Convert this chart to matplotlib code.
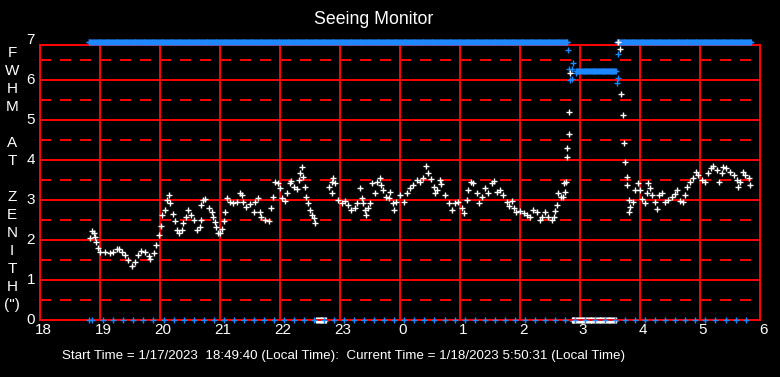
import numpy as np
import matplotlib
matplotlib.use("Agg")
import matplotlib.pyplot as plt

# ---------------- data ----------------
# time in hours since midnight of start day (24+ = next day)
fwhm_times = [
    18.83, 18.86, 18.90, 18.92, 18.94, 18.96, 19.00, 19.08, 19.17, 19.22, 19.28, 19.32, 19.36,
    19.42, 19.47, 19.53, 19.58, 19.64, 19.69, 19.75, 19.81, 19.84, 19.90, 19.94, 19.98, 20.01,
    20.04, 20.08, 20.12, 20.15, 20.17, 20.22, 20.25, 20.28, 20.32, 20.36, 20.39, 20.43, 20.47,
    20.51, 20.56, 20.61, 20.66, 20.68, 20.69, 20.72, 20.75, 20.81, 20.86, 20.89, 20.92, 20.94,
    20.97, 21.00, 21.04, 21.07, 21.08, 21.12, 21.17, 21.22, 21.28, 21.33, 21.36, 21.39, 21.44,
    21.50, 21.56, 21.58, 21.64, 21.67, 21.69, 21.75, 21.82, 21.85, 21.88, 21.92, 21.97, 22.00,
    22.04, 22.08, 22.12, 22.17, 22.19, 22.23, 22.28, 22.31, 22.33, 22.36, 22.39, 22.42, 22.44,
    22.47, 22.50, 22.53, 22.56, 22.58,
    22.82, 22.86, 22.86, 22.89, 22.92, 22.97, 23.03, 23.08, 23.14, 23.19, 23.25, 23.29, 23.33,
    23.36, 23.39, 23.42, 23.43, 23.47, 23.50, 23.53, 23.58, 23.61, 23.67, 23.69, 23.72, 23.77,
    23.81, 23.84, 23.88, 23.90, 23.94, 24.00, 24.06, 24.11, 24.17, 24.22, 24.28, 24.33, 24.39,
    24.43, 24.47, 24.51, 24.56, 24.58, 24.61, 24.67, 24.69, 24.75, 24.81, 24.86, 24.92, 24.97,
    25.03, 25.07, 25.11, 25.14, 25.19, 25.22, 25.28, 25.32, 25.36, 25.42, 25.47, 25.53, 25.57,
    25.61, 25.67, 25.72, 25.78, 25.81, 25.86, 25.90, 25.94, 26.00, 26.06, 26.11, 26.17, 26.22,
    26.28, 26.33, 26.36, 26.42, 26.47, 26.53, 26.56, 26.58, 26.61, 26.64, 26.68, 26.72, 26.73,
    26.75, 26.76, 26.78, 26.79, 26.81, 26.82, 26.83,
    27.64, 27.67, 27.69, 27.72, 27.74, 27.75, 27.78, 27.79, 27.81, 27.82, 27.84, 27.88, 27.92,
    27.97, 28.00, 28.04, 28.08, 28.12, 28.14, 28.17, 28.20, 28.25, 28.28, 28.32, 28.36, 28.42,
    28.47, 28.53, 28.58, 28.62, 28.67, 28.72, 28.75, 28.78, 28.83, 28.89, 28.93, 28.97, 29.03,
    29.08, 29.14, 29.19, 29.22, 29.28, 29.32, 29.36, 29.39, 29.44, 29.50, 29.56, 29.61, 29.64,
    29.67, 29.71, 29.75, 29.81, 29.83,
]
fwhm_values = [
    2.04, 2.23, 2.18, 2.07, 1.96, 1.79, 1.71, 1.71, 1.68, 1.71, 1.77, 1.77, 1.71,
    1.63, 1.50, 1.35, 1.46, 1.63, 1.73, 1.71, 1.60, 1.52, 1.67, 1.88, 2.13, 2.35,
    2.63, 2.75, 3.00, 3.12, 2.92, 2.65, 2.48, 2.25, 2.17, 2.25, 2.42, 2.58, 2.75,
    2.62, 2.50, 2.25, 2.33, 2.50, 2.88, 3.00, 3.02, 2.79, 2.71, 2.58, 2.46, 2.33,
    2.18, 2.17, 2.27, 2.48, 2.71, 3.04, 2.96, 2.92, 2.96, 3.17, 3.12, 2.96, 2.83,
    2.90, 2.71, 2.96, 3.04, 2.71, 2.58, 2.50, 2.48, 2.79, 3.08, 3.46, 3.43, 3.29,
    3.04, 2.98, 3.17, 3.42, 3.48, 3.33, 3.27, 3.50, 3.67, 3.82, 3.57, 3.32, 3.08,
    2.92, 2.75, 2.62, 2.54, 2.42,
    3.33, 3.46, 3.17, 3.54, 3.43, 3.00, 2.93, 2.98, 2.88, 2.75, 2.79, 2.92, 3.29,
    3.04, 2.92, 2.75, 2.62, 2.79, 2.92, 3.42, 3.17, 3.46, 3.54, 3.37, 3.25, 3.08,
    3.04, 3.21, 2.92, 2.75, 2.96, 3.12, 2.96, 3.17, 3.29, 3.37, 3.50, 3.46, 3.54,
    3.85, 3.68, 3.52, 3.32, 3.17, 3.25, 3.50, 3.40, 3.12, 2.93, 2.75, 2.93, 2.96,
    2.79, 2.67, 3.00, 3.25, 3.46, 3.42, 3.17, 2.93, 3.08, 3.29, 3.17, 3.43, 3.48,
    3.21, 3.25, 3.12, 2.96, 2.85, 2.98, 2.79, 2.71, 2.73, 2.67, 2.62, 2.58, 2.75,
    2.71, 2.50, 2.58, 2.71, 2.58, 2.50, 2.58, 2.73, 2.88, 3.17, 3.08, 3.08, 3.42,
    3.21, 3.46, 4.08, 4.29, 4.64, 5.19, 6.17,
    6.94, 6.77, 5.64, 5.12, 4.42, 3.96, 3.57, 3.37, 3.00, 2.71, 2.83, 2.96, 3.25,
    3.42, 3.25, 3.02, 2.92, 3.17, 3.42, 3.29, 3.12, 2.96, 2.77, 3.12, 3.17, 2.96,
    3.00, 3.08, 3.15, 3.25, 2.98, 2.96, 3.12, 3.33, 3.46, 3.54, 3.71, 3.62, 3.50,
    3.46, 3.67, 3.79, 3.85, 3.75, 3.46, 3.67, 3.83, 3.79, 3.71, 3.62, 3.50, 3.33,
    3.46, 3.71, 3.62, 3.54, 3.37,
]
# periods where FWHM is reported as 0 (start, end)
fwhm_zero_periods = [(22.60, 22.78), (26.86, 27.61)]

# blue flag series: saturated level and transition points
flag_high_periods = [(18.81, 26.80), (27.62, 29.86)]
flag_high_value = 6.94
flag_mid_period = (26.94, 27.61)
flag_mid_value = 6.22
flag_trans_times = [26.80, 26.82, 26.84, 26.86, 26.87, 26.89, 26.93, 27.61, 27.64, 27.64]
flag_trans_values = [6.74, 6.27, 6.00, 6.02, 6.27, 6.42, 6.17, 5.92, 6.04, 6.64]
# sparse blue markers at zero (about every 10 minutes)
flag_low_extra = [18.81, 18.86]
flag_low_span = (19.055, 29.76, 65)

x_ticks = [18, 19, 20, 21, 22, 23, 24, 25, 26, 27, 28, 29, 30]
x_tick_labels = ["18", "19", "20", "21", "22", "23", "0", "1", "2", "3", "4", "5", "6"]
y_ticks = [0, 1, 2, 3, 4, 5, 6, 7]
ylabel_chars = ["F", "W", "H", "M", "", "A", "T", "", "Z", "E", "N", "I", "T", "H", "(\")"]
title = "Seeing Monitor"
footer = "Start Time = 1/17/2023  18:49:40 (Local Time):  Current Time = 1/18/2023 5:50:31 (Local Time)"

# ---------------- style ----------------
plt.rcParams["font.family"] = ["Liberation Sans", "DejaVu Sans"]

W, H = 780, 377
fig = plt.figure(figsize=(W / 100, H / 100), dpi=100, facecolor="black")
L, R, T, B = 40, 760, 45, 320
ax = fig.add_axes([L / W, 1 - B / H, (R - L) / W, (B - T) / H], facecolor="black")
ax.set_xlim(18, 30)
ax.set_ylim(0, 6.875)

RED = "#FF0000"
BLUE = "#1E88FF"
lw = 1.44
for xh in x_ticks[1:-1]:
    ax.axvline(xh, color=RED, lw=lw, zorder=1)
for yv in range(1, 7):
    ax.axhline(yv, color=RED, lw=lw, zorder=1)
for yv in np.arange(0.5, 7, 1.0):
    ax.axhline(yv, color=RED, lw=lw, ls=(0, (5.5, 4.5)), zorder=1)
for s in ax.spines.values():
    s.set_color(RED)
    s.set_linewidth(lw)
ax.set_xticks([])
ax.set_yticks([])

mk = dict(marker="+", linestyle="none", clip_on=False, zorder=3)

# blue flag series
for a, b in flag_high_periods:
    t = np.arange(a, b, 0.015)
    ax.plot(t, np.full_like(t, flag_high_value), color=BLUE, ms=3.8, mew=1.0, **mk)
t = np.arange(flag_mid_period[0], flag_mid_period[1], 0.015)
ax.plot(t, np.full_like(t, flag_mid_value), color=BLUE, ms=3.8, mew=1.0, **mk)
ax.plot(flag_trans_times, flag_trans_values, color=BLUE, ms=5, mew=1.0, **mk)
low_t = np.concatenate([flag_low_extra, np.linspace(*flag_low_span)])
ax.plot(low_t, np.zeros_like(low_t), color=BLUE, ms=5, mew=1.0, **mk)

# white FWHM series
for a, b in fwhm_zero_periods:
    t = np.arange(a, b, 0.015)
    ax.plot(t, np.zeros_like(t), color="white", ms=3.8, mew=1.0, zorder=2.5,
            marker="+", linestyle="none", clip_on=False)
ax.plot(fwhm_times, fwhm_values, color="white", ms=5, mew=1.0, **mk)

# tick labels
fs = 11
for xv, lab in zip(x_ticks, x_tick_labels):
    fig.text((L + (xv - 18) * 60 + 3) / W, 1 - 330.5 / H, lab, color="white",
             fontsize=fs, ha="center", va="center")
for yv in y_ticks:
    fig.text(35 / W, 1 - (320 - yv * 40) / H, str(yv), color="white",
             fontsize=fs, ha="right", va="center")

# stacked y label
for i, ch in enumerate(ylabel_chars):
    if ch:
        fig.text(12 / W, 1 - (53 + 18 * i) / H, ch, color="white", fontsize=fs,
                 ha="center", va="center")

fig.text(374 / W, 1 - 20 / H, title, color="white", fontsize=12.8, ha="center", va="center")
fig.text(62 / W, 1 - 355.5 / H, footer, color="white", fontsize=9.6, ha="left", va="center")

fig.savefig("out.png", dpi=100, facecolor="black")
